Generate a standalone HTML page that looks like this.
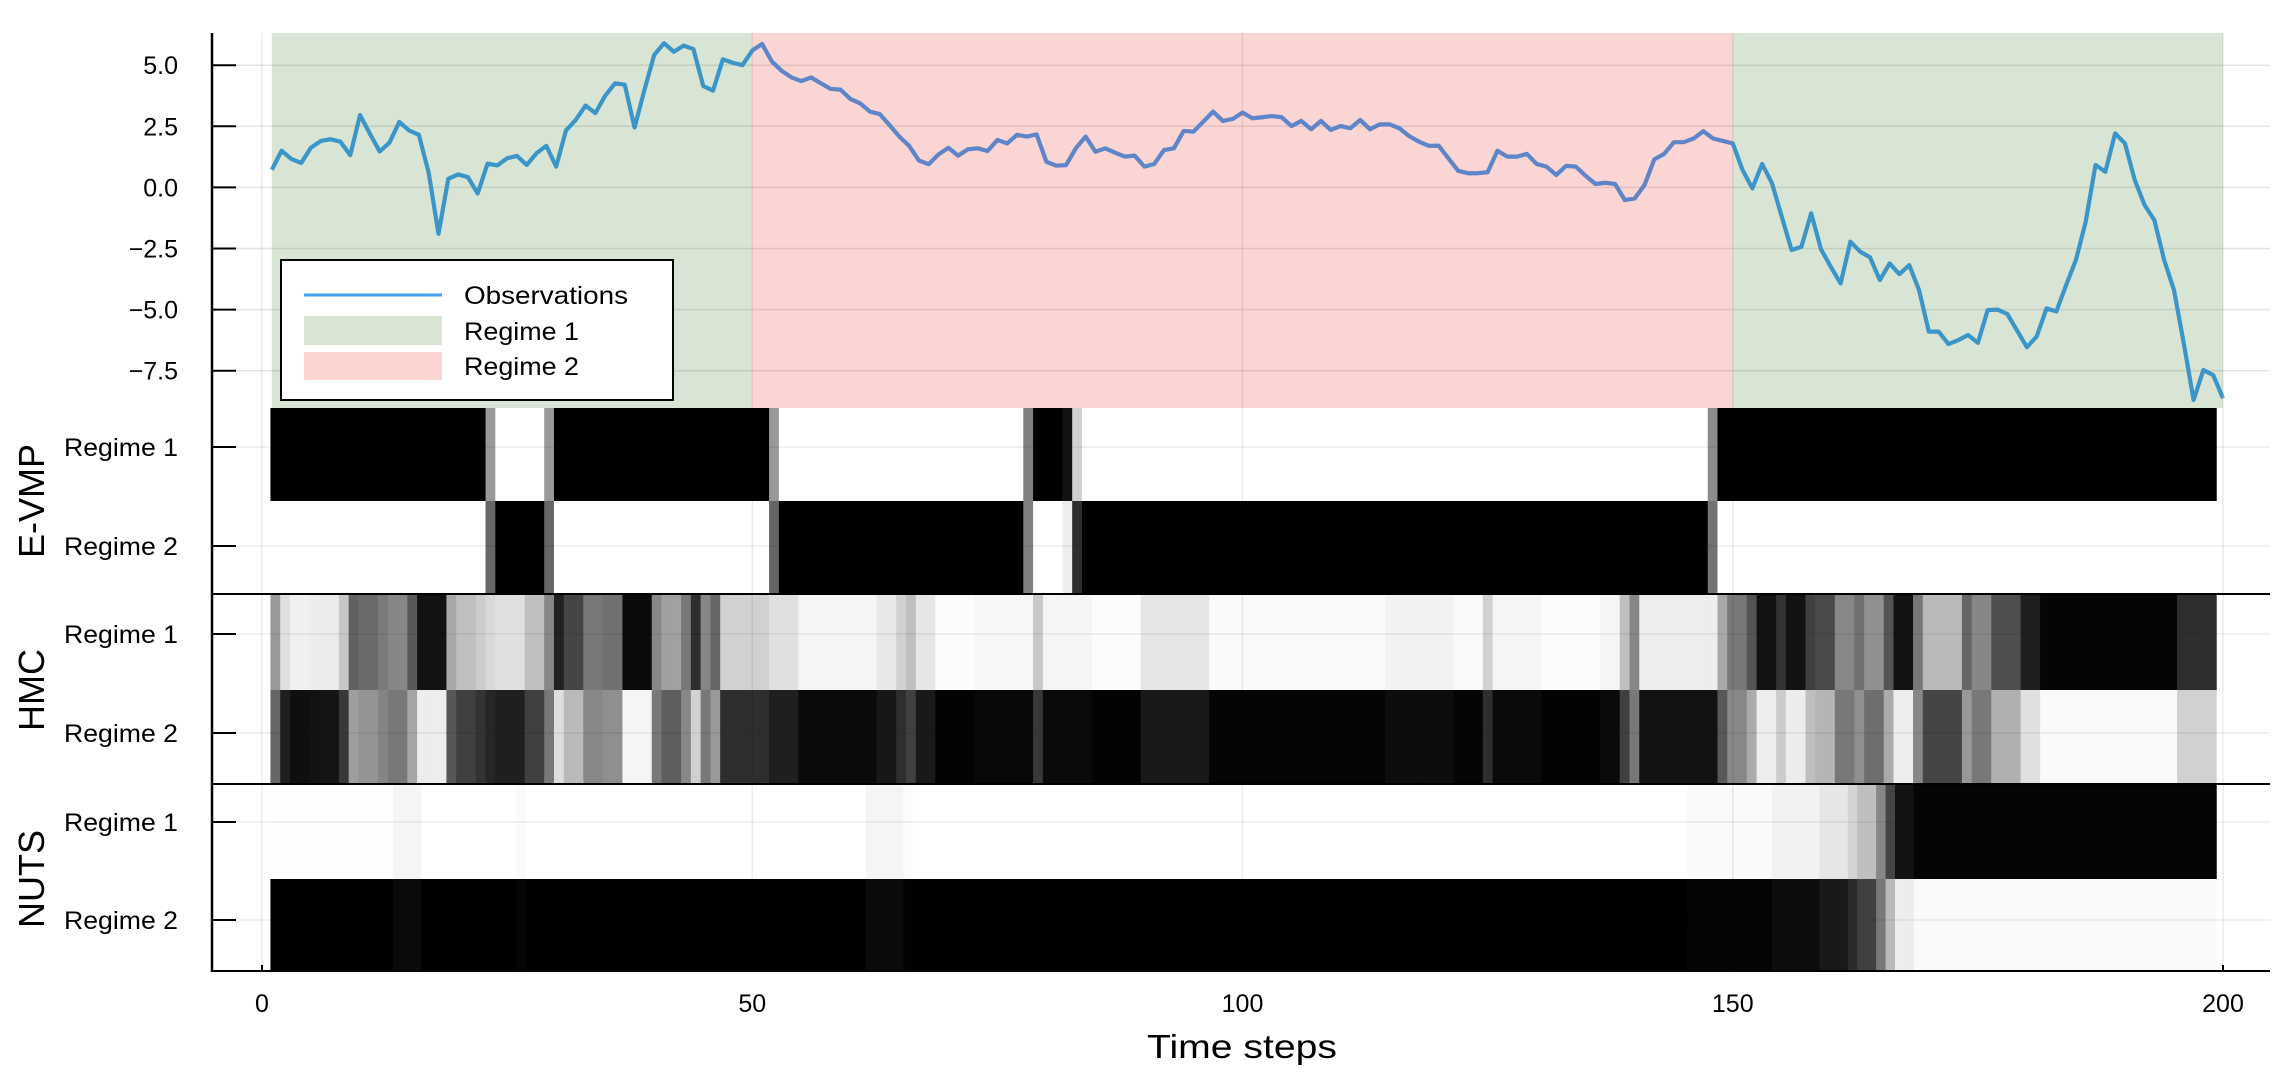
<!DOCTYPE html>
<html><head><meta charset="utf-8"><style>
html,body{margin:0;padding:0;background:#fff;}
svg{display:block;font-family:"Liberation Sans","DejaVu Sans",sans-serif;}
</style></head><body>
<svg id="chart" width="2278" height="1082" viewBox="0 0 2278 1082" xmlns="http://www.w3.org/2000/svg">
<rect x="0" y="0" width="2278" height="1082" fill="#fff"/>
<g id="fills"></g>
<g id="heat"></g>
<g id="grid"></g>
<g id="lineg"></g>
<g id="axes"></g>
<g id="legend">
<rect x="281" y="260" width="392" height="140" fill="#fff" stroke="#000" stroke-width="2"/>
<line x1="304" y1="295" x2="442" y2="295" stroke="#449ff0" stroke-width="3"/>
<text x="464" y="304" font-size="25" textLength="164" lengthAdjust="spacingAndGlyphs">Observations</text>
<rect x="304" y="316" width="138" height="29" fill="#d9e5d3"/>
<text x="464" y="340" font-size="25" textLength="115" lengthAdjust="spacingAndGlyphs">Regime 1</text>
<rect x="304" y="352" width="138" height="28" fill="#fad5d2"/>
<text x="464" y="375" font-size="25" textLength="115" lengthAdjust="spacingAndGlyphs">Regime 2</text>
</g>
</svg>
<script>
const observations = [0.72,1.5,1.16,1.0,1.63,1.9,1.97,1.87,1.32,2.96,2.2,1.47,1.83,2.68,2.33,2.15,0.6,-1.9,0.35,0.53,0.42,-0.25,0.97,0.9,1.19,1.29,0.92,1.4,1.7,0.85,2.33,2.76,3.35,3.04,3.75,4.26,4.2,2.45,3.98,5.42,5.9,5.55,5.8,5.66,
4.15,3.96,5.24,5.1,5.0,5.6,5.87,5.15,4.77,4.5,4.35,4.5,4.26,4.03,4.0,3.62,3.44,3.1,3.0,2.55,2.08,1.7,1.1,0.95,1.35,1.62,1.3,1.56,1.6,1.49,1.94,1.8,2.15,2.08,2.17,1.05,0.89,0.91,1.6,2.08,
1.46,1.6,1.42,1.26,1.3,0.85,0.96,1.53,1.6,2.31,2.28,2.69,3.1,2.72,2.8,3.06,2.83,2.87,2.92,2.87,2.51,2.72,2.38,2.72,2.35,2.51,2.42,2.76,2.38,2.58,2.58,2.42,2.1,1.87,1.7,1.71,1.19,0.68,0.58,0.58,0.62,1.5,1.26,1.26,1.37,0.96,
0.85,0.51,0.88,0.85,0.47,0.14,0.19,0.14,-0.52,-0.45,0.1,1.15,1.37,1.85,1.85,2.0,2.3,2.0,1.9,1.8,
0.71,-0.04,0.96,0.17,-1.2,-2.56,-2.43,-1.06,-2.53,-3.25,-3.93,-2.22,-2.63,-2.86,-3.79,-3.11,-3.55,
-3.18,-4.2,-5.9,-5.9,-6.41,-6.25,-6.04,-6.36,-5.02,-5.0,-5.18,-5.86,-6.54,-6.1,-4.95,-5.08,-4.0,-2.97,-1.4,0.92,0.64,2.21,1.8,0.3,-0.72,-1.34,-2.97,-4.2,-6.38,-8.7,-7.47,-7.68,-8.63];
const regimeStarts = [1, 50, 150];
const regimeEnds = [50, 150, 200];
const regimeIds = [1, 2, 1];
const yTicks = [5.0, 2.5, 0.0, -2.5, -5.0, -7.5];
const yTickLabels = ["5.0", "2.5", "0.0", "\u22122.5", "\u22125.0", "\u22127.5"];
const xTicks = [0, 50, 100, 150, 200];
const xTickLabels = ["0", "50", "100", "150", "200"];
const methods = ["E-VMP", "HMC", "NUTS"];
const rowLabels = ["Regime 1", "Regime 2"];
const evmpP1 = [1,1,1,1,1,1,1,1,1,1,1,1,1,1,1,1,1,1,1,1,1,1,0.4,0,0,0,0,0,0.4,
1,1,1,1,1,1,1,1,1,1,1,1,1,1,1,1,1,1,1,1,1,1,0.4,
0,0,0,0,0,0,0,0,0,0,0,0,0,0,0,0,0,0,0,0,0,0,0,0,0,0.5,1,1,1,0.93,0.18,
0,0,0,0,0,0,0,0,0,0,0,0,0,0,0,0,0,0,0,0,0,0,0,0,0,0,0,0,0,0,0,0,0,0,0,0,0,0,0,0,0,0,0,0,0,0,0,0,0,0,0,0,0,0,0,0,0,0,0,0,0,0,0,0,0.45,
1,1,1,1,1,1,1,1,1,1,1,1,1,1,1,1,1,1,1,1,1,1,1,1,1,1,1,1,1,1,1,1,1,1,1,1,1,1,1,1,1,1,1,1,1,1,1,1,1,1,1];
const hmcP1 = [0.4,0.12,0.06,0.06,0.07,0.08,0.08,0.22,0.62,0.58,0.58,0.52,0.47,0.47,0.65,0.93,0.93,0.93,0.34,0.25,0.25,0.2,0.15,0.12,0.12,0.12,0.25,0.25,0.47,0.87,0.73,0.73,0.53,0.53,0.56,0.56,0.96,0.96,0.96,0.47,0.37,0.37,0.53,0.82,0.47,0.6,
0.18,0.18,0.18,0.18,0.18,0.12,0.12,0.12,0.04,0.04,0.04,0.04,0.04,0.04,0.04,0.04,0.09,0.09,0.18,0.25,
0.1,0.1,0.01,0.01,0.01,0.01,0.03,0.03,0.03,0.03,0.03,0.03,0.22,0.04,0.04,0.04,0.04,0.04,0.01,0.01,0.01,0.01,0.01,
0.1,0.1,0.1,0.1,0.1,0.1,0.1,0.02,0.02,0.02,0.02,0.02,0.02,0.02,0.02,0.02,0.02,0.02,0.02,0.02,0.02,0.02,0.02,0.02,0.02,
0.05,0.05,0.05,0.05,0.05,0.05,0.05,0.02,0.02,0.02,0.18,0.04,0.04,0.04,0.04,0.04,0.01,0.01,0.01,0.01,0.01,0.01,0.04,0.04,0.25,0.47,
0.07,0.07,0.07,0.07,0.07,0.07,0.07,0.07,0.34,0.53,0.53,0.67,0.93,0.93,0.8,0.93,0.93,0.75,0.71,0.71,0.47,0.47,0.56,0.43,0.43,0.67,0.93,0.93,0.53,0.27,0.27,0.27,0.27,0.6,0.47,0.47,0.69,0.69,0.69,0.88,0.88,
0.98,0.98,0.98,0.98,0.98,0.98,0.98,0.98,0.98,0.98,0.98,0.98,0.98,0.98,0.82,0.82,0.82,0.82];
const nutsP1 = [0.005,0.005,0.005,0.005,0.005,0.005,0.005,0.005,0.005,0.005,0.005,0.005,0.005,0.04,0.04,0.04,0,0,0,0,0,0,0,0,0,0,0.02,
0,0,0,0,0,0,0,0,0,0,0,0,0,0,0,0,0,0,0,0,0,0,0,0,0,0,0,0,0,0,0,0,0,0,0,0,0.04,0.04,0.04,0.04,
0.01,0,0,0,0,0,0,0,0,0,0,0,0,0,0,0,0,0,0,0,0,0,0,0,0,0,0,0,0,0,0,0,0,0,0,0,0,0,0,0,0,0,0,0,0,0,0,0,0,0,0,0,0,0,0,0,0,0,0,0,0,0,0,0,0,0,0,0,0,0,0,0,0,0,0,0,0,0,0,0,0,0,0,
0.02,0.02,0.02,0.02,0.02,0.02,0.02,0.02,0.02,0.05,0.05,0.05,0.05,0.05,0.1,0.1,0.1,0.17,0.25,0.25,0.47,0.73,0.93,0.93,
0.98,0.98,0.98,0.98,0.98,0.98,0.98,0.98,0.98,0.98,0.98,0.98,0.98,0.98,0.98,0.98,0.98,0.98,0.98,0.98,0.98,0.98,0.98,0.98,0.98,0.98,0.98,0.98,0.98,0.98,0.98,0.98];

const NS = "http://www.w3.org/2000/svg";
const X0 = 262, XS = 9.805;
function tx(t){ return X0 + XS * t; }
const Y0 = 187.4, YS = 24.44;
function vy(v){ return Y0 - YS * v; }
const TOP = 33, TOPBOT = 408, AXL = 212, AXR = 2270, BOT = 971;
const panelTops = [408, 595, 784];
const panelMids = [501, 690, 879];
const panelBots = [594, 784, 971];
const rowTicks = [[447, 546], [634, 733], [822, 920]];
const heatStart = 0.86, heatEnd = 199.3;

function mk(tag, attrs, parent){
  const e = document.createElementNS(NS, tag);
  for (const k in attrs) e.setAttribute(k, attrs[k]);
  parent.appendChild(e);
  return e;
}
const fills = document.getElementById('fills');
const heat = document.getElementById('heat');
const grid = document.getElementById('grid');
const lineg = document.getElementById('lineg');
const axes = document.getElementById('axes');

// line first (fills overlay with alpha)
let d = "";
observations.forEach((v, i) => { d += (i ? "L" : "M") + tx(i + 1).toFixed(2) + "," + vy(v).toFixed(2); });
const path = mk('path', {d: d, fill: "none", stroke: "#439ff1", "stroke-width": 4.2, "stroke-linejoin": "round"}, lineg);



regimeStarts.forEach((s, i) => {
  const r = mk('rect', {x: tx(s), y: TOP, width: tx(regimeEnds[i]) - tx(s), height: TOPBOT - TOP,
    fill: regimeIds[i] === 1 ? "rgba(31,102,0,0.17)" : "rgba(226,8,0,0.17)"}, lineg);
  
  
});

// heatmaps
const series = [evmpP1, hmcP1, nutsP1];
series.forEach((arr, m) => {
  const n = arr.length;
  const w = (heatEnd - heatStart) / n;
  arr.forEach((p, k) => {
    const x1 = tx(heatStart + k * w), x2 = tx(heatStart + (k + 1) * w);
    const vals = [p, 1 - p];
    vals.forEach((v, r) => {
      const g = Math.round(255 * (1 - v));
      const y1 = r === 0 ? panelTops[m] : panelMids[m];
      const y2 = r === 0 ? panelMids[m] : panelBots[m];
      const c = mk('rect', {x: x1.toFixed(2), y: y1, width: (x2 - x1 + 0.6).toFixed(2), height: y2 - y1, fill: "rgb(" + g + "," + g + "," + g + ")"}, heat);
      
      
    });
  });
});

// grid
xTicks.forEach(t => {
  const l = mk('line', {x1: tx(t), y1: TOP, x2: tx(t), y2: BOT, stroke: "rgba(0,0,0,0.08)", "stroke-width": 1.5}, grid);
  
  
});
yTicks.forEach(v => {
  const l = mk('line', {x1: AXL, y1: vy(v), x2: AXR, y2: vy(v), stroke: "rgba(0,0,0,0.1)", "stroke-width": 1.5}, grid);
  
  
});
rowTicks.forEach(pair => pair.forEach(y => {
  const l = mk('line', {x1: AXL, y1: y, x2: AXR, y2: y, stroke: "rgba(0,0,0,0.07)", "stroke-width": 1.5}, grid);
  
  
}));

// axes
const ya = mk('line', {x1: AXL, y1: TOP, x2: AXL, y2: BOT + 1, stroke: "#000", "stroke-width": 2.5}, axes);


[594, 784, BOT].forEach(y => {
  const l = mk('line', {x1: AXL, y1: y, x2: AXR, y2: y, stroke: "#000", "stroke-width": 2}, axes);
  
  
});
yTicks.forEach((v, i) => {
  const tk = mk('line', {x1: AXL, y1: vy(v), x2: AXL + 24, y2: vy(v), stroke: "#000", "stroke-width": 2}, axes);
  
  
  const tl = mk('text', {x: 178, y: vy(v) + 9, "font-size": 25, "text-anchor": "end"}, axes);
  tl.textContent = yTickLabels[i];
  
  
});
rowTicks.forEach((pair, m) => {
  pair.forEach((y, r) => {
    const tk = mk('line', {x1: AXL, y1: y, x2: AXL + 24, y2: y, stroke: "#000", "stroke-width": 2}, axes);
    
    
    const tl = mk('text', {x: 178, y: y + 9, "font-size": 25, "text-anchor": "end", textLength: 114, lengthAdjust: "spacingAndGlyphs"}, axes);
    tl.textContent = rowLabels[r];
    
    
  });
  const pl = mk('text', {x: 0, y: 0, "font-size": 36, "text-anchor": "middle",
    transform: "translate(44," + panelMids[m] + ") rotate(-90)"}, axes);
  pl.textContent = methods[m];
  
  
});
xTicks.forEach((t, i) => {
  const tk = mk('line', {x1: tx(t), y1: BOT, x2: tx(t), y2: BOT - 6, stroke: "#000", "stroke-width": 2}, axes);
  
  
  const tl = mk('text', {x: tx(t), y: 1012, "font-size": 25, "text-anchor": "middle"}, axes);
  tl.textContent = xTickLabels[i];
  
  
});
const xt = mk('text', {x: 1242, y: 1058, "font-size": 33, "text-anchor": "middle", textLength: 190, lengthAdjust: "spacingAndGlyphs"}, axes);
xt.textContent = "Time steps";


</script>
</body></html>
